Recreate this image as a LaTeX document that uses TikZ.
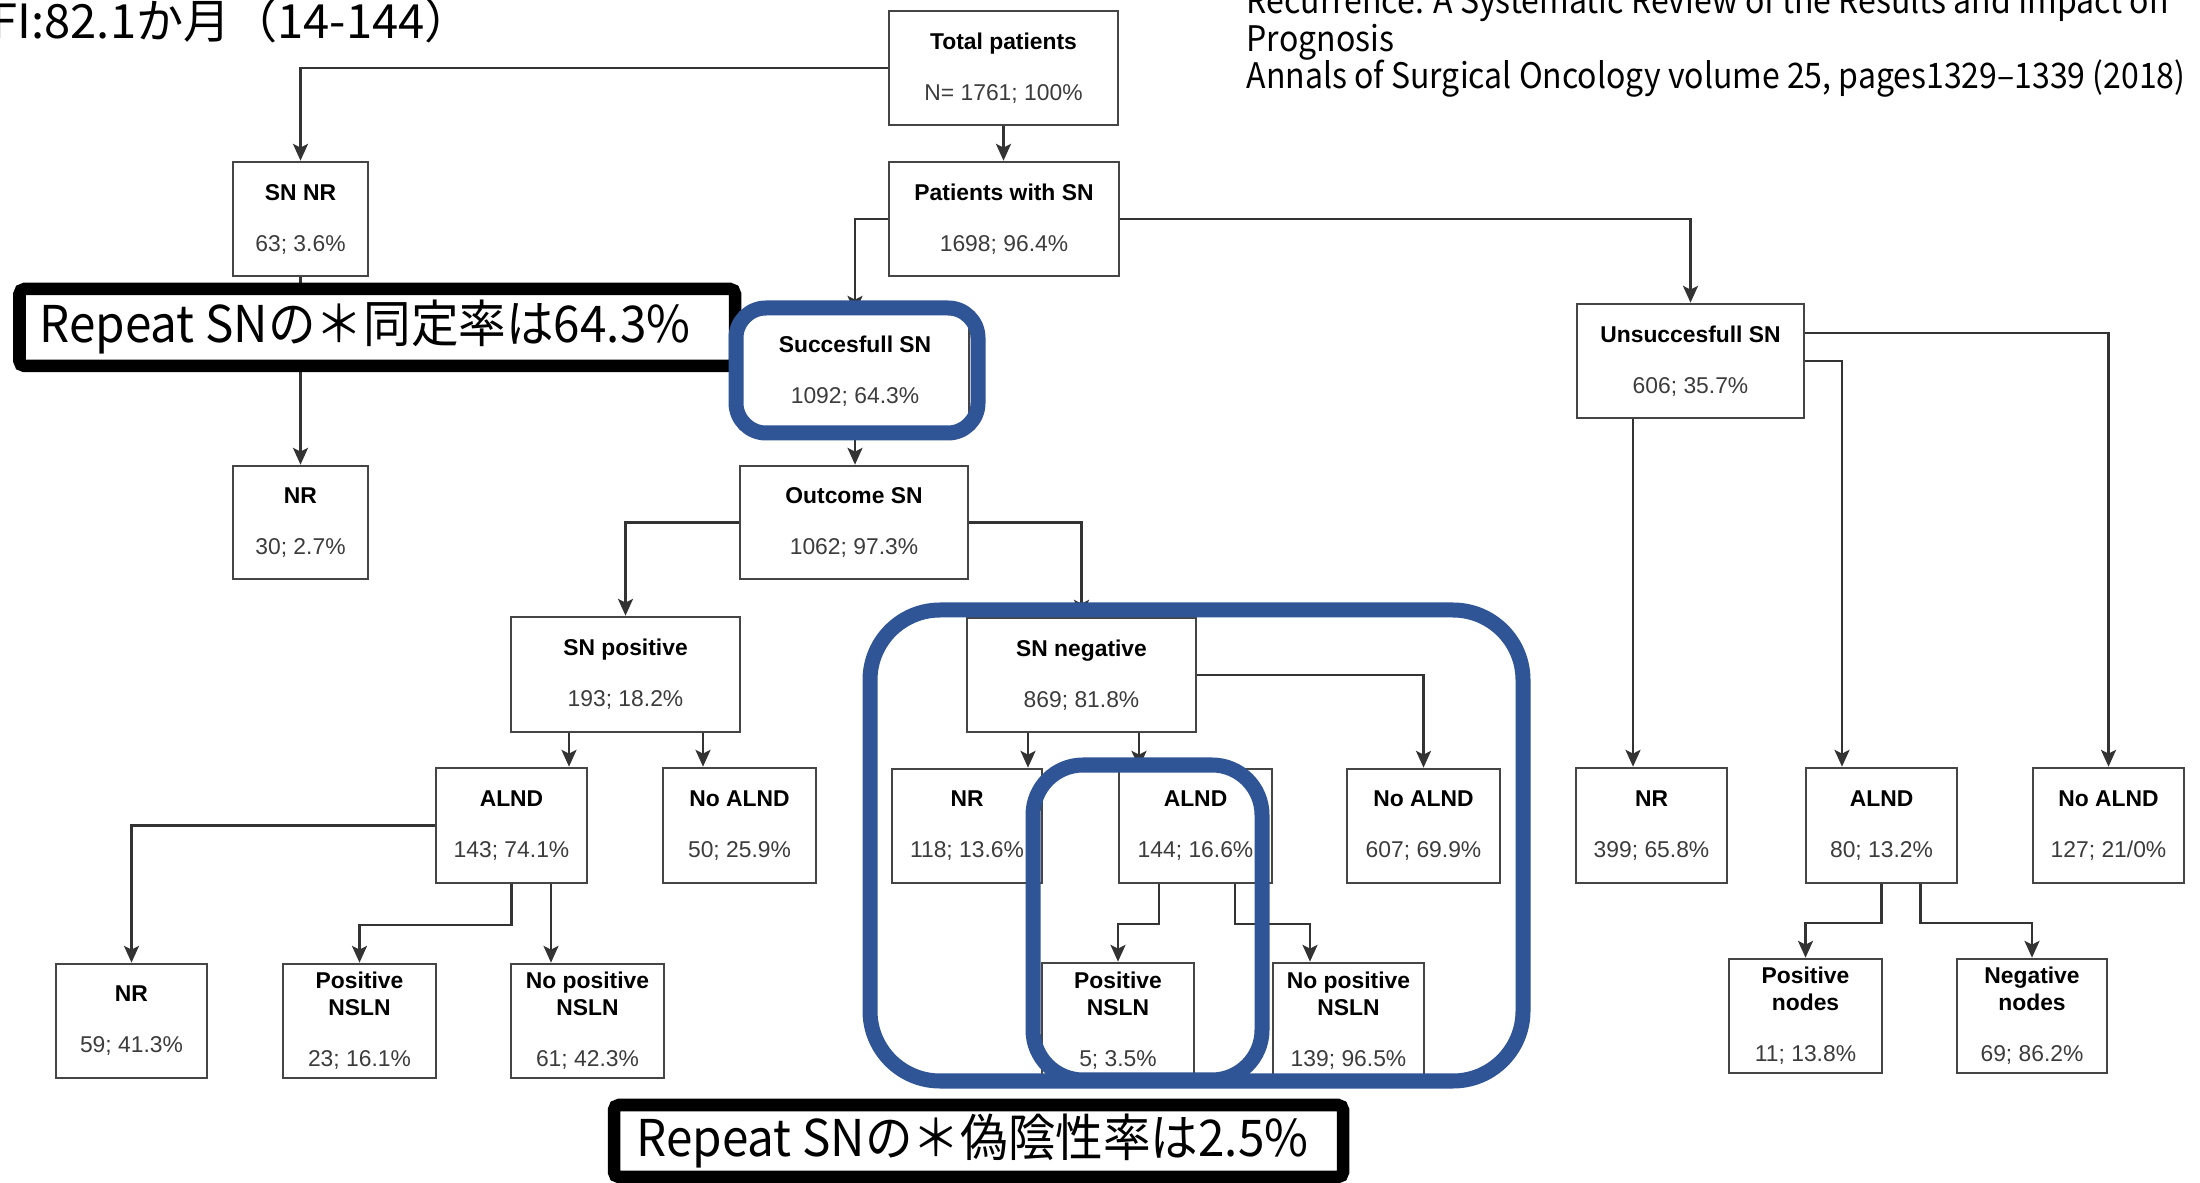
\documentclass[tikz,border=0pt]{standalone}
\usepackage{fontspec}
\setmainfont{Liberation Sans}
\newfontfamily\jpfont{Noto Sans CJK JP}
\newfontfamily\jpnarrow[FakeStretch=0.94]{Noto Sans CJK JP}
\newfontfamily\jpcite[FakeStretch=0.91]{Noto Sans CJK JP}
\usetikzlibrary{arrows.meta,calc}
\definecolor{hlblue}{HTML}{2F5597}
\definecolor{numc}{HTML}{3C3C3C}
\definecolor{boxc}{HTML}{454545}
\newcommand\numtxt[1]{{\color{numc}#1}}
\newcommand\flowbox[6]{\node[bx, minimum width={(#4-#2)*0.01cm}, minimum height={(#5-#3)*0.01cm}] (#1) at ({(#2+#4)/2},{(#3+#5)/2}) {#6};}
\begin{document}
\begin{tikzpicture}[x=0.01cm,y=-0.01cm,
  bx/.style={draw=boxc, line width=0.75pt, fill=white, align=center, inner sep=0pt,
    font=\fontsize{6.5}{7.7}\selectfont},
  arr/.style={draw=black!80, line width=0.6pt, -{Stealth[length=4.8pt,width=4.3pt,inset=1.1pt]}},
  callout/.style={draw=black, line width=0.125cm, fill=white, rounded corners=0.05cm, inner sep=0pt},
  calltext/.style={font=\jpnarrow\fontsize{14.4}{17}\selectfont, inner sep=0pt, anchor=west},
  hlframe/.style={draw=hlblue, line width=0.15cm},
  cite/.style={font=\jpcite\fontsize{10}{12}\selectfont, inner sep=0pt, anchor=base west}]
\path[use as bounding box, fill=white] (0,0) rectangle (2200,1183);

% header texts
\node[font=\jpfont\fontsize{13.4}{16}\selectfont, inner sep=0pt, anchor=base west] (fi) at (-9,39) {FI:82.1か月（14-144）};
\node[cite] (cite1) at (1246,14) {Recurrence: A Systematic Review of the Results and Impact on};
\node[cite] (cite2) at (1246,52) {Prognosis};
\node[cite] (cite3) at (1246,89) {Annals of Surgical Oncology volume 25, pages1329–1339 (2018)};

% boxes
\flowbox{tot}{889}{11}{1118}{125}{\textbf{Total patients}\\[6.8pt]\numtxt{N= 1761; 100\%}}
\flowbox{snnr}{233}{162}{368}{276}{\textbf{SN NR}\\[6.8pt]\numtxt{63; 3.6\%}}
\flowbox{pwsn}{889}{162}{1119}{276}{\textbf{Patients with SN}\\[6.8pt]\numtxt{1698; 96.4\%}}
\flowbox{succ}{741}{314}{969}{428}{\textbf{Succesfull SN}\\[6.8pt]\numtxt{1092; 64.3\%}}
\flowbox{unsucc}{1577}{304}{1804}{418}{\textbf{Unsuccesfull SN}\\[6.8pt]\numtxt{606; 35.7\%}}
\flowbox{nrL}{233}{466}{368}{579}{\textbf{NR}\\[6.8pt]\numtxt{30; 2.7\%}}
\flowbox{outc}{740}{466}{968}{579}{\textbf{Outcome SN}\\[6.8pt]\numtxt{1062; 97.3\%}}
\flowbox{snpos}{511}{617}{740}{732}{\textbf{SN positive}\\[6.8pt]\numtxt{193; 18.2\%}}
\flowbox{snneg}{967}{618}{1196}{732}{\textbf{SN negative}\\[6.8pt]\numtxt{869; 81.8\%}}
\flowbox{alndP}{436}{768}{587}{883}{\textbf{ALND}\\[6.8pt]\numtxt{143; 74.1\%}}
\flowbox{noalndP}{663}{768}{816}{883}{\textbf{No ALND}\\[6.8pt]\numtxt{50; 25.9\%}}
\flowbox{nrN}{892}{769}{1042}{883}{\textbf{NR}\\[6.8pt]\numtxt{118; 13.6\%}}
\flowbox{alndN}{1119}{769}{1272}{883}{\textbf{ALND}\\[6.8pt]\numtxt{144; 16.6\%}}
\flowbox{noalndN}{1347}{769}{1500}{883}{\textbf{No ALND}\\[6.8pt]\numtxt{607; 69.9\%}}
\flowbox{nrR}{1576}{768}{1727}{883}{\textbf{NR}\\[6.8pt]\numtxt{399; 65.8\%}}
\flowbox{alndR}{1806}{768}{1957}{883}{\textbf{ALND}\\[6.8pt]\numtxt{80; 13.2\%}}
\flowbox{noalndR}{2033}{768}{2184}{883}{\textbf{No ALND}\\[6.8pt]\numtxt{127; 21/0\%}}
\flowbox{nrBL}{56}{964}{207}{1078}{\textbf{NR}\\[6.8pt]\numtxt{59; 41.3\%}}
\flowbox{posP}{283}{964}{436}{1078}{\textbf{Positive}\\\textbf{NSLN}\\[6.8pt]\numtxt{23; 16.1\%}}
\flowbox{noposP}{511}{964}{664}{1078}{\textbf{No positive}\\\textbf{NSLN}\\[6.8pt]\numtxt{61; 42.3\%}}
\flowbox{posN}{1042}{963}{1194}{1078}{\textbf{Positive}\\\textbf{NSLN}\\[6.8pt]\numtxt{5; 3.5\%}}
\flowbox{noposN}{1273}{963}{1424}{1078}{\textbf{No positive}\\\textbf{NSLN}\\[6.8pt]\numtxt{139; 96.5\%}}
\flowbox{posNodes}{1729}{959}{1882}{1073}{\textbf{Positive}\\\textbf{nodes}\\[6.8pt]\numtxt{11; 13.8\%}}
\flowbox{negNodes}{1957}{959}{2107}{1073}{\textbf{Negative}\\\textbf{nodes}\\[6.8pt]\numtxt{69; 86.2\%}}

% connectors
\draw[arr] (tot.west) -| (snnr.north);
\draw[arr] (tot.south) -- (tot.south |- pwsn.north);
\draw[arr] (pwsn.west) -| (succ.north);
\draw[arr] (pwsn.east) -| (unsucc.north);
\draw[arr] (snnr.south) -- (snnr.south |- nrL.north);
\draw[arr] (succ.south) -- (succ.south |- outc.north);
\draw[arr] (outc.west) -| (snpos.north);
\draw[arr] (outc.east) -| (snneg.north);
\draw[arr] ($(snpos.south)+(-56.5,0)$) coordinate (c1) -- (c1 |- alndP.north);
\draw[arr] ($(snpos.south)+(77.5,0)$) coordinate (c2) -- (c2 |- noalndP.north);
\draw[arr] (alndP.west) -| (nrBL.north);
\draw[arr] (alndP.south) -- ++(0,41) -| (posP.north);
\draw[arr] ($(alndP.south)+(39.5,0)$) coordinate (c3) -- (c3 |- noposP.north);
\draw[arr] ($(snneg.south)+(-53.5,0)$) coordinate (c4) -- (c4 |- nrN.north);
\draw[arr] ($(snneg.south)+(57.5,0)$) coordinate (c5) -- (c5 |- alndN.north);
\draw[arr] (snneg.east) -| (noalndN.north);
\draw[arr] ($(alndN.south)+(-36.5,0)$) -- ++(0,40) -| (posN.north);
\draw[arr] ($(alndN.south)+(39.5,0)$) -- ++(0,40) -| ($(noposN.north)+(-38.5,0)$);
\draw[arr] ($(unsucc.south)+(-57.5,0)$) coordinate (c6) -- (c6 |- nrR.north);
\draw[arr] (unsucc.east) -| ($(alndR.north)+(-39.5,0)$);
\draw[arr] ($(unsucc.east)+(0,-28)$) -| (noalndR.north);
\draw[arr] (alndR.south) -- ++(0,39) -| (posNodes.north);
\draw[arr] ($(alndR.south)+(39,0)$) -- ++(0,39) -| (negNodes.north);

% callout boxes
\node[callout, minimum width={715.5*0.01cm}, minimum height={77*0.01cm}] (cb1) at (377.25,327.5) {};
\node[calltext] (ct1) at (39,327.5) {Repeat SNの＊同定率は64.3\%};
\node[callout, minimum width={729*0.01cm}, minimum height={72*0.01cm}] (cb2) at (978.5,1141) {};
\node[calltext] (ct2) at (636,1141) {Repeat SNの＊偽陰性率は2.5\%};

% highlight frames
\draw[hlframe, rounded corners=0.3cm] (736,308) rectangle (978,433);
\draw[hlframe, rounded corners=0.7cm] (870,610) rectangle (1523,1081);
\draw[hlframe, rounded corners=0.5cm] (1033,765) rectangle (1262,1080);
\end{tikzpicture}
\end{document}
